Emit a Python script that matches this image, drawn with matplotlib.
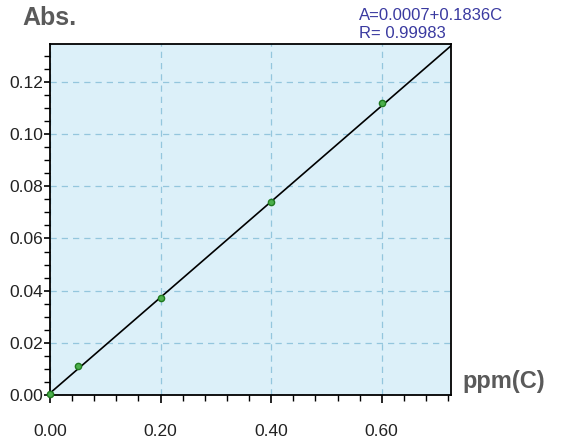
import matplotlib.pyplot as plt
import numpy as np
from matplotlib.ticker import MultipleLocator

plt.rcParams['font.family'] = ['Liberation Sans', 'DejaVu Sans']

# calibration standards
conc = [0.00, 0.05, 0.20, 0.40, 0.60]
absorb = [0.0002, 0.011, 0.037, 0.074, 0.112]

# fit A = a + b*C
intercept = 0.0007
slope = 0.1836
r_value = 0.99983

xticks = [0.00, 0.20, 0.40, 0.60]
yticks = [0.00, 0.02, 0.04, 0.06, 0.08, 0.10, 0.12]

fig = plt.figure(figsize=(5.63, 4.43), dpi=100)
ax = fig.add_axes([0.0888, 0.1084, 0.712, 0.792])
ax.set_facecolor('#dcf0f9')

xmax, ymax = 0.725, 0.1345
xs = np.array([0.0, xmax])
ax.plot(xs, intercept + slope * xs, color='black', lw=1.2, zorder=3)
ax.plot(conc, absorb, 'o', ms=4.5, mfc='#4cb04c', mec='#1f7a1f', mew=1, zorder=4, clip_on=False)

ax.set_xlim(0, xmax)
ax.set_ylim(0, ymax)
ax.set_xticks(xticks)
ax.set_xticklabels(['%.2f' % v for v in xticks])
ax.set_yticks(yticks)
ax.set_yticklabels(['%.2f' % v for v in yticks])
ax.xaxis.set_minor_locator(MultipleLocator(0.04))
ax.yaxis.set_minor_locator(MultipleLocator(0.005))
ax.tick_params(which='major', direction='out', length=6, width=1.2, labelsize=12.5, labelcolor='#222222')
ax.tick_params(axis='x', which='major', pad=15)
ax.tick_params(axis='y', which='major', pad=1, length=4)
ax.tick_params(which='minor', direction='out', length=4, width=1)
ax.grid(True, which='major', color='#94c6dd', linestyle=(0, (5, 4)), lw=0.9)
ax.set_axisbelow(True)
for s in ax.spines.values():
    s.set_linewidth(1.3)

fig.text(0.039, 0.959, 'Abs.', fontsize=18, fontweight='bold', color='#5a5a5a', va='center')
fig.text(0.821, 0.138, 'ppm(C)', fontsize=17, fontweight='bold', color='#5a5a5a', va='center')
fig.text(0.638, 0.966, 'A=%.4f+%.4fC' % (intercept, slope), fontsize=12, color='#3a3aa0', va='center')
fig.text(0.638, 0.925, 'R= %.5f' % r_value, fontsize=12, color='#3a3aa0', va='center')

plt.savefig('out.png', dpi=100)
